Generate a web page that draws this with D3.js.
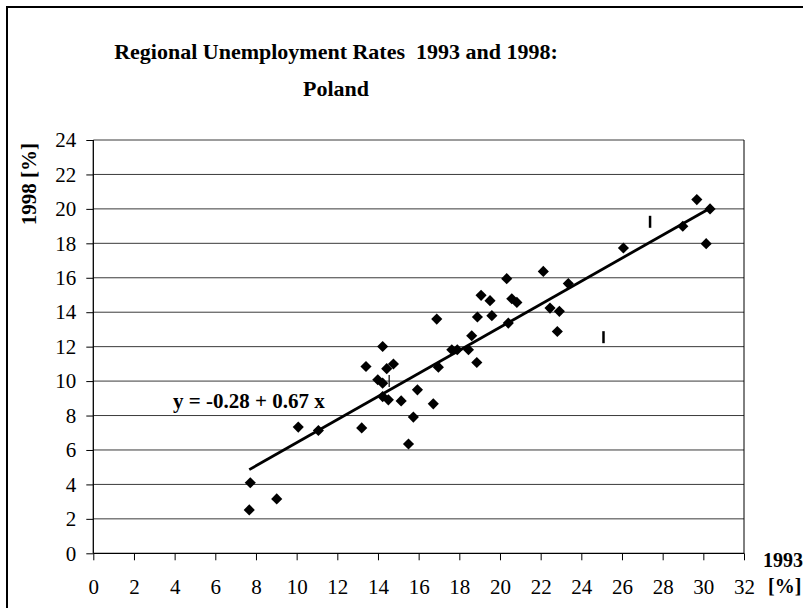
<!DOCTYPE html>
<html>
<head>
<meta charset="utf-8">
<script src="https://cdn.jsdelivr.net/npm/d3@7"></script>
<style>
  html, body { margin: 0; padding: 0; background: #fff; }
  svg { display: block; }
  text { font-family: "Liberation Serif", "Times New Roman", serif; fill: #000; white-space: pre; }
</style>
</head>
<body>
<svg id="chart" width="803" height="608"></svg>
<script>
// ---- data ----
const unemp1993 = [7.72, 7.67, 9.02, 10.08, 11.07, 13.2, 13.41, 13.99, 14.23, 14.23, 14.43, 14.76,
  14.23, 14.51, 15.14, 15.5, 15.74, 15.94, 16.72, 16.89, 16.97, 17.63, 17.9, 18.45, 18.61, 18.86,
  18.89, 19.6, 19.07, 19.51, 20.33, 20.41, 20.58, 20.83, 22.13, 22.46, 22.92, 22.82, 23.36, 26.07,
  28.99, 29.68, 30.33, 30.14];
const unemp1998 = [4.1, 2.52, 3.16, 7.33, 7.13, 7.28, 10.85, 10.08, 9.88, 12.01, 10.72, 10.99,
  9.1, 8.91, 8.85, 6.35, 7.91, 9.49, 8.68, 13.6, 10.81, 11.82, 11.82, 11.82, 12.63, 11.08,
  13.72, 13.8, 14.98, 14.67, 15.95, 13.37, 14.78, 14.57, 16.37, 14.24, 14.05, 12.88, 15.66, 17.73,
  18.99, 20.54, 20.0, 17.98];
const fitIntercept = -0.28;
const fitSlope = 0.67;
const strayX = [14.55, 27.38, 25.09];
const strayY = [10.0, 19.25, 12.55];
const xTicks = d3.range(0, 33, 2);
const yTicks = d3.range(0, 25, 2);
const titleLines = ["Regional Unemployment Rates  1993 and 1998:", "Poland"];
const equationLabel = "y = -0.28 + 0.67 x";

// ---- layout ----
const svg = d3.select("#chart");
const plot = { left: 93.3, right: 744, top: 140, bottom: 553.3 };
const x = d3.scaleLinear().domain([0, 32]).range([plot.left, plot.right]);
const y = d3.scaleLinear().domain([0, 24]).range([plot.bottom, plot.top]);

// outer frame
svg.append("rect").attr("x", 7).attr("y", 7).attr("width", 830).attr("height", 630)
  .attr("fill", "none").attr("stroke", "#000").attr("stroke-width", 2);

// title
svg.append("g").selectAll("text").data(titleLines).join("text")
  .attr("x", 336).attr("y", (d, i) => 59 + i * 37)
  .attr("text-anchor", "middle").attr("font-weight", "bold").attr("font-size", 22)
  .text(d => d);

// gridlines
svg.append("g").selectAll("line").data(yTicks.filter(d => d > 0)).join("line")
  .attr("x1", plot.left).attr("x2", plot.right)
  .attr("y1", d => y(d)).attr("y2", d => y(d))
  .attr("stroke", "#3a3a3a").attr("stroke-width", 1);

// right plot border
svg.append("line").attr("x1", plot.right).attr("x2", plot.right)
  .attr("y1", plot.top).attr("y2", plot.bottom)
  .attr("stroke", "#000").attr("stroke-width", 1);

// axes
const xAxis = svg.append("g").attr("transform", `translate(0,${plot.bottom})`)
  .call(d3.axisBottom(x).tickValues(xTicks).tickSize(7).tickPadding(19).tickFormat(d3.format("d")));
const yAxis = svg.append("g").attr("transform", `translate(${plot.left},0)`)
  .call(d3.axisLeft(y).tickValues(yTicks).tickSize(7).tickPadding(10).tickFormat(d3.format("d")));
[xAxis, yAxis].forEach(a => {
  a.select(".domain").attr("stroke", "#000").attr("stroke-width", 1.3);
  a.selectAll(".tick line").attr("stroke", "#000").attr("stroke-width", 1);
  a.selectAll(".tick text").attr("font-family", "Liberation Serif, serif").attr("font-size", 21).attr("fill", "#000");
});
xAxis.select(".domain").attr("d", `M${plot.left},0H${plot.right}`);
yAxis.select(".domain").attr("d", `M0,${plot.bottom}V${plot.top}`);

// axis titles
svg.append("text").attr("transform", "translate(36,184) rotate(-90)")
  .attr("text-anchor", "middle").attr("font-weight", "bold").attr("font-size", 21)
  .text("1998 [%]");
svg.append("text").attr("x", 763).attr("y", 567)
  .attr("font-weight", "bold").attr("font-size", 20).text("1993");
svg.append("text").attr("x", 768).attr("y", 593)
  .attr("font-weight", "bold").attr("font-size", 20).text("[%]");

// regression line
const xmin = d3.min(unemp1993), xmax = d3.max(unemp1993);
svg.append("line")
  .attr("x1", x(xmin)).attr("y1", y(fitIntercept + fitSlope * xmin))
  .attr("x2", x(xmax)).attr("y2", y(fitIntercept + fitSlope * xmax))
  .attr("stroke", "#000").attr("stroke-width", 2.8);

// stray vertical marks
svg.append("g").selectAll("line").data(strayX.map((d, i) => [d, strayY[i]])).join("line")
  .attr("x1", d => x(d[0])).attr("x2", d => x(d[0]))
  .attr("y1", d => y(d[1]) - 6).attr("y2", d => y(d[1]) + 6)
  .attr("stroke", "#000").attr("stroke-width", (d, i) => i === 0 ? 1.2 : 2.5);

// data points (diamonds)
const diamond = d3.symbol().type(d3.symbolSquare).size(62);
svg.append("g").selectAll("path").data(unemp1993.map((d, i) => [d, unemp1998[i]])).join("path")
  .attr("d", diamond)
  .attr("transform", d => `translate(${x(d[0])},${y(d[1])}) rotate(45)`)
  .attr("fill", "#000");

// equation label
svg.append("text").attr("x", 173).attr("y", 408)
  .attr("font-weight", "bold").attr("font-size", 21).text(equationLabel);
</script>
</body>
</html>
